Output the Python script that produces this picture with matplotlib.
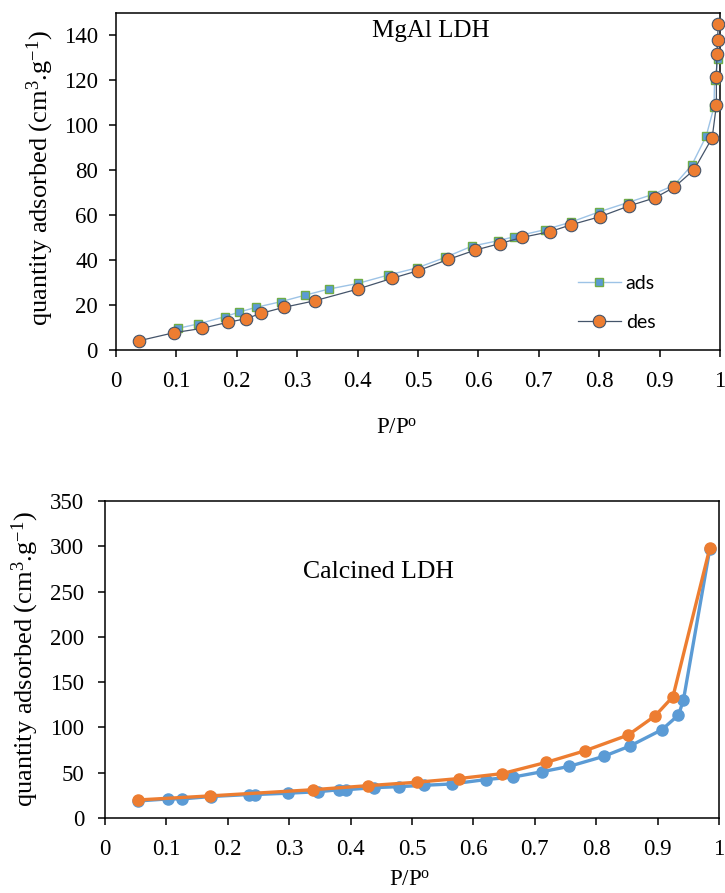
import matplotlib
matplotlib.use('Agg')
import matplotlib.pyplot as plt
from matplotlib.ticker import MultipleLocator, FuncFormatter

plt.rcParams['font.family'] = ['Liberation Serif', 'DejaVu Serif']
plt.rcParams['mathtext.fontset'] = 'custom'
plt.rcParams['mathtext.rm'] = 'Liberation Serif'
plt.rcParams['mathtext.it'] = 'Liberation Serif:italic'

# MgAl LDH isotherm (top)
ads_x = [0.102, 0.136, 0.180, 0.204, 0.232, 0.273, 0.313, 0.352, 0.400, 0.450,
         0.499, 0.545, 0.589, 0.632, 0.659, 0.711, 0.754, 0.800, 0.847, 0.888,
         0.924, 0.953, 0.977, 0.990, 0.991, 0.997]
ads_y = [9.6, 11.6, 14.8, 16.9, 19.0, 21.5, 24.4, 27.1, 29.6, 33.3,
         36.6, 41.2, 46.2, 48.6, 50.4, 53.6, 57.0, 61.5, 65.6, 69.2,
         73.3, 82.2, 95.1, 108.1, 120.0, 129.6]
des_x = [0.038, 0.096, 0.142, 0.186, 0.215, 0.240, 0.278, 0.329, 0.400, 0.457,
         0.500, 0.550, 0.594, 0.636, 0.672, 0.719, 0.753, 0.802, 0.849, 0.892,
         0.924, 0.957, 0.987, 0.994, 0.994, 0.995, 0.996, 0.997]
des_y = [4.1, 7.7, 9.6, 12.4, 13.9, 16.3, 19.0, 21.9, 27.1, 31.9,
         35.3, 40.3, 44.4, 47.4, 50.1, 52.7, 55.7, 59.4, 64.1, 67.7,
         72.4, 80.2, 94.4, 108.9, 121.5, 131.7, 138.2, 145.2]

# Calcined LDH isotherm (bottom)
cal_ads_x = [0.054, 0.103, 0.126, 0.172, 0.234, 0.245, 0.298, 0.347, 0.381, 0.392,
             0.438, 0.479, 0.520, 0.565, 0.621, 0.665, 0.711, 0.756, 0.812, 0.855,
             0.907, 0.934, 0.942, 0.985]
cal_ads_y = [18.8, 21.1, 21.1, 23.7, 25.9, 25.9, 27.4, 29.0, 31.2, 31.2,
             33.5, 34.6, 36.1, 37.6, 42.5, 45.2, 51.0, 57.0, 68.0, 79.5,
             97.5, 113.7, 130.0, 297.0]
cal_des_x = [0.053, 0.171, 0.338, 0.428, 0.508, 0.577, 0.647, 0.719, 0.782, 0.852,
             0.896, 0.925, 0.985]
cal_des_y = [19.9, 24.4, 31.2, 35.7, 39.5, 43.6, 49.0, 61.5, 74.3, 91.6,
             112.8, 134.0, 298.0]

W, H = 725, 893
fig = plt.figure(figsize=(W / 100, H / 100), dpi=100)

def px_axes(l, t, r, b):
    return fig.add_axes([l / W, 1 - b / H, (r - l) / W, (b - t) / H])

fmt = FuncFormatter(lambda v, p: '%g' % round(v, 2))
ylab = r'quantity adsorbed (cm$^{3}$.g$^{\mathregular{-1}}$)'
xlab = r'P/P$^{\mathregular{o}}$'

def style(ax, ystep, ymax, ypad):
    ax.set_xlim(0, 1)
    ax.set_ylim(0, ymax)
    ax.xaxis.set_major_locator(MultipleLocator(0.1))
    ax.yaxis.set_major_locator(MultipleLocator(ystep))
    ax.xaxis.set_major_formatter(fmt)
    for s in ax.spines.values():
        s.set_linewidth(1.1)
        s.set_color('black')
    ax.tick_params(axis='x', direction='out', length=5, width=1.1, labelsize=16.5, pad=10)
    ax.tick_params(axis='y', direction='out', length=5, width=1.1, labelsize=16.5, pad=ypad)

# top panel
ax1 = px_axes(116, 13, 720, 350)
ax1.plot(ads_x, ads_y, color='#9DC3E6', lw=1.0, marker='s', ms=6,
         mfc='#5B9BD5', mec='#70AD47', mew=1.0, label='ads', zorder=3, clip_on=False)
ax1.plot(des_x, des_y, color='#44546A', lw=0.9, marker='o', ms=9,
         mfc='#ED7D31', mec='#44546A', mew=0.8, label='des', zorder=4, clip_on=False)
style(ax1, 20, 150, 8)
leg = ax1.legend(loc='upper left', bbox_to_anchor=(0.765, 0.222), frameon=False,
                 prop={'family': 'Lato', 'size': 14}, handlelength=2.2,
                 handletextpad=0.25, labelspacing=1.1, borderpad=0, borderaxespad=0)
fig.text(431 / W, 1 - 31 / H, 'MgAl LDH', ha='center', va='center', fontsize=18)
fig.text(40 / W, 1 - 178 / H, ylab, rotation=90, ha='center', va='center', fontsize=19)
fig.text(397 / W, 1 - 428 / H, xlab, ha='center', va='center', fontsize=16.5)

# bottom panel
ax2 = px_axes(105, 501, 719, 818)
ax2.plot(cal_ads_x, cal_ads_y, color='#5B9BD5', lw=2.4, marker='o', ms=8,
         mfc='#5B9BD5', mec='#5B9BD5', zorder=3)
ax2.plot(cal_des_x, cal_des_y, color='#ED7D31', lw=2.4, marker='o', ms=8,
         mfc='#ED7D31', mec='#ED7D31', zorder=4)
style(ax2, 50, 350, 10)
fig.text(378 / W, 1 - 572 / H, 'Calcined LDH', ha='center', va='center', fontsize=18.5)
fig.text(25 / W, 1 - 659 / H, ylab, rotation=90, ha='center', va='center', fontsize=19)
fig.text(410 / W, 1 - 880 / H, xlab, ha='center', va='center', fontsize=16.5)

fig.savefig('out.png', dpi=100)
